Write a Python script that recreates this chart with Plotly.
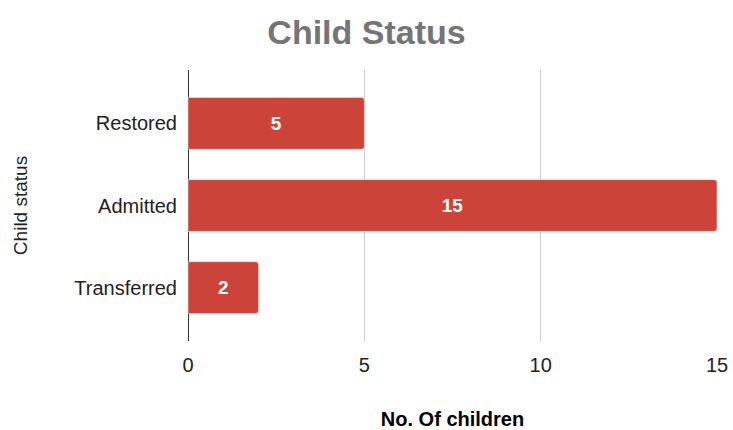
import plotly.graph_objects as go

categories = ["Restored", "Admitted", "Transferred"]
values = [5, 15, 2]
x_ticks = [0, 5, 10, 15]

fig = go.Figure(go.Bar(
    y=categories, x=values, orientation="h",
    marker=dict(color="#cc4439", cornerradius=3),
    text=[str(v) for v in values], textposition="inside", insidetextanchor="middle",
    textfont=dict(color="white", size=19, family="Liberation Sans", weight="bold"),
    width=0.63,
))

fig.update_layout(
    width=733, height=430,
    margin=dict(l=188, r=16, t=70, b=89),
    paper_bgcolor="white", plot_bgcolor="white",
    font=dict(family="Liberation Sans, Arial", size=20, color="#222"),
    title=dict(text="<b>Child Status</b>", x=0.5, xanchor="center", y=1 - 32 / 430, yanchor="middle",
               font=dict(size=34, color="#757575")),
    showlegend=False,
)
fig.update_xaxes(range=[0, 15], tickvals=x_ticks, showgrid=True, gridcolor="#cccccc",
                 zeroline=True, zerolinecolor="#333", zerolinewidth=1,
                 ticks="", ticklabelstandoff=10, tickfont=dict(size=20, color="#222"), automargin=False,
                 title=dict(text="<b>No. Of children</b>", font=dict(size=20, color="#000"), standoff=36))
fig.update_yaxes(categoryorder="array", categoryarray=categories, autorange=False, range=[2.65, -0.65],
                 showgrid=False, ticks="", ticklabelstandoff=10, automargin=False,
                 tickfont=dict(size=20, color="#222"),
                 title=dict(text="Child status", font=dict(size=19, color="#222"), standoff=41))

fig.write_html("out.html", config={"displayModeBar": False},
               post_script="document.body.style.margin='0';document.body.style.overflow='hidden';")
